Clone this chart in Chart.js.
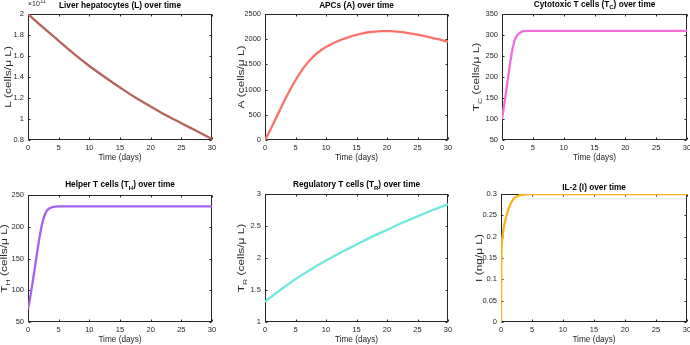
<!DOCTYPE html>
<html>
<head>
<meta charset="utf-8">
<script src="https://cdn.jsdelivr.net/npm/chart.js@4.4.1/dist/chart.umd.min.js"></script>
<style>
html, body { margin: 0; padding: 0; background: #fff; width: 690px; height: 345px; overflow: hidden; }
canvas { position: absolute; }
</style>
</head>
<body>
<canvas id="c1"></canvas>
<canvas id="c2"></canvas>
<canvas id="c3"></canvas>
<canvas id="c4"></canvas>
<canvas id="c5"></canvas>
<canvas id="c6"></canvas>
<script>
// ---- data ----
const xTicks = [0, 5, 10, 15, 20, 25, 30];

const daysL = [0, 2.5, 5, 7.5, 10, 12.5, 15, 17.5, 20, 22.5, 25, 27.5, 30];
const liverL = [2.0e11, 1.87e11, 1.745e11, 1.62e11, 1.505e11, 1.40e11, 1.30e11, 1.205e11, 1.12e11, 1.035e11, 0.96e11, 0.885e11, 0.81e11];
const yTicksL = [0.8e11, 1.0e11, 1.2e11, 1.4e11, 1.6e11, 1.8e11, 2.0e11];

const daysA = [0, 1, 2, 3, 4, 5, 6, 7, 8, 9, 10, 11, 12, 13, 14, 15, 16, 17, 18, 19, 20, 22, 24, 26, 28, 30];
const apcA = [0, 235, 485, 735, 970, 1185, 1375, 1535, 1665, 1765, 1845, 1910, 1965, 2010, 2050, 2085, 2115, 2138, 2152, 2160, 2160, 2145, 2110, 2065, 2010, 1950];
const yTicksA = [0, 500, 1000, 1500, 2000, 2500];

const daysTC = [0, 0.5, 1, 1.5, 2, 2.5, 3, 3.5, 4, 5, 10, 20, 30];
const cytoTC = [100, 148, 200, 250, 285, 300, 306, 309, 310, 310, 310, 310, 310];
const yTicksTC = [50, 100, 150, 200, 250, 300, 350];

const daysTH = [0, 0.5, 1, 1.5, 2, 2.5, 3, 3.5, 4, 5, 10, 20, 30];
const helperTH = [70, 97, 128, 160, 190, 212, 224, 229, 231, 232, 232, 232, 232];
const yTicksTH = [50, 100, 150, 200, 250];

const daysTR = [0, 2.5, 5, 7.5, 10, 12.5, 15, 17.5, 20, 22.5, 25, 27.5, 30];
const regTR = [1.32, 1.50, 1.67, 1.82, 1.96, 2.09, 2.21, 2.33, 2.44, 2.55, 2.65, 2.75, 2.84];
const yTicksTR = [1, 1.5, 2, 2.5, 3];

const daysI = [0, 0.03, 0.1, 0.25, 0.5, 1, 1.5, 2, 2.5, 3, 4, 5, 30];
const il2I = [0, 0.11, 0.17, 0.2, 0.225, 0.255, 0.276, 0.288, 0.294, 0.297, 0.299, 0.3, 0.3];
const yTicksI = [0, 0.05, 0.1, 0.15, 0.2, 0.25, 0.3];

// ---- panels ----
const FONT = '"Liberation Sans", Arial, Helvetica, sans-serif';
const YW = 20, XH = 12;

const panels = [
  { id: 'c1', box: [0, 0, 230, 172], area: [28, 14, 212, 140], days: daysL, vals: liverL, color: '#b5645a',
    yTicks: yTicksL, div: 1e11, title: [['Liver hepatocytes (L) over time']], titleY: 6,
    ylab: [['L (cells/μ L)']], ylabX: 9, exp: true, smooth: true },
  { id: 'c2', box: [230, 0, 230, 172], area: [265, 14, 448, 140], days: daysA, vals: apcA, color: '#fa7268',
    yTicks: yTicksA, div: 1, title: [['APCs (A) over time']], titleY: 6,
    ylab: [['A (cells/μ L)']], ylabX: 242, smooth: true },
  { id: 'c3', box: [460, 0, 236, 172], area: [502, 14, 687, 140], days: daysTC, vals: cytoTC, color: '#f26fde',
    yTicks: yTicksTC, div: 1, title: [['Cytotoxic T cells (T'], ['C', 1], [') over time']], titleY: 4.5,
    ylab: [['T'], ['C', 1], [' (cells/μ L)']], ylabX: 477 },
  { id: 'c4', box: [0, 172, 230, 173], area: [28, 195, 212, 322], days: daysTH, vals: helperTH, color: '#a461f2',
    yTicks: yTicksTH, div: 1, title: [['Helper T cells (T'], ['H', 1], [') over time']], titleY: 185,
    ylab: [['T'], ['H', 1], [' (cells/μ L)']], ylabX: 4.5 },
  { id: 'c5', box: [230, 172, 230, 173], area: [265, 194, 448, 322], days: daysTR, vals: regTR, color: '#6fe8e0',
    yTicks: yTicksTR, div: 1, title: [['Regulatory T cells (T'], ['R', 1], [') over time']], titleY: 185,
    ylab: [['T'], ['R', 1], [' (cells/μ L)']], ylabX: 242, smooth: true },
  { id: 'c6', box: [460, 172, 236, 173], area: [501, 194, 687, 322], days: daysI, vals: il2I, color: '#f5b41e',
    yTicks: yTicksI, div: 1, title: [['IL-2 (I) over time']], titleY: 188,
    ylab: [['I (ng/μ L)']], ylabX: 480 }
];

function drawRich(ctx, segs, x, y, size, bold) {
  let total = 0;
  const parts = segs.map(([t, sub]) => {
    const fs = sub ? size * 0.72 : size;
    ctx.font = (bold ? 'bold ' : '') + fs + 'px ' + FONT;
    const w = ctx.measureText(t).width;
    total += w;
    return { t, sub, fs, w };
  });
  let cx = x - total / 2;
  ctx.textAlign = 'left';
  ctx.textBaseline = 'middle';
  parts.forEach(p => {
    ctx.font = (bold ? 'bold ' : '') + p.fs + 'px ' + FONT;
    ctx.fillText(p.t, cx, y + (p.sub ? size * 0.4 : 0));
    cx += p.w;
  });
}

const frame = {
  id: 'frame',
  beforeDatasetsDraw(chart) {
    const { ctx, chartArea: a, scales: { x, y } } = chart;
    const l = Math.round(a.left) + 0.5, r = Math.round(a.right) - 0.5;
    const t = Math.round(a.top) + 0.5, b = Math.round(a.bottom) - 0.5;
    ctx.save();
    ctx.strokeStyle = '#262626';
    ctx.lineWidth = 1;
    ctx.strokeRect(l, t, r - l, b - t);
    ctx.beginPath();
    x.ticks.forEach(tk => {
      const px = Math.round(x.getPixelForValue(tk.value)) + 0.5;
      ctx.moveTo(px, b); ctx.lineTo(px, b - 2);
      ctx.moveTo(px, t); ctx.lineTo(px, t + 2);
    });
    y.ticks.forEach(tk => {
      const py = Math.round(y.getPixelForValue(tk.value)) + 0.5;
      ctx.moveTo(l, py); ctx.lineTo(l + 2, py);
      ctx.moveTo(r, py); ctx.lineTo(r - 2, py);
    });
    ctx.stroke();
    ctx.restore();
  },
  afterDraw(chart, args, o) {
    const { ctx, chartArea: a } = chart;
    const p = o.panel;
    const ox = p.box[0], oy = p.box[1];
    const cx = (a.left + a.right) / 2, cy = (a.top + a.bottom) / 2;
    ctx.save();
    ctx.fillStyle = '#000';
    drawRich(ctx, p.title, cx, p.titleY - oy, 8.25, true);
    ctx.fillStyle = '#262626';
    drawRich(ctx, [['Time (days)']], cx, a.bottom + 18, 8.25, false);
    ctx.translate(p.ylabX - ox, cy);
    ctx.rotate(-Math.PI / 2);
    ctx.scale(1.4, 1);
    drawRich(ctx, p.ylab, 0, 0, 8.5, false);
    ctx.restore();
    if (p.exp) {
      ctx.save();
      ctx.fillStyle = '#262626';
      ctx.textAlign = 'left';
      ctx.textBaseline = 'middle';
      ctx.font = '7px ' + FONT;
      ctx.fillText('×10', a.left, 4);
      const w = ctx.measureText('×10').width;
      ctx.font = '5.5px ' + FONT;
      ctx.fillText('11', a.left + w + 0.5, 1.5);
      ctx.restore();
    }
  }
};

function fmt(v) {
  return String(parseFloat(v.toFixed(4)));
}

panels.forEach(p => {
  const cv = document.getElementById(p.id);
  const [bx, by, bw, bh] = p.box;
  const [l, t, r, b] = p.area;
  cv.width = bw; cv.height = bh;
  cv.style.left = bx + 'px'; cv.style.top = by + 'px';
  cv.style.width = bw + 'px'; cv.style.height = bh + 'px';
  const tickFont = { family: FONT, size: 7.5 };
  new Chart(cv, {
    type: 'line',
    data: {
      datasets: [{
        data: p.days.map((d, i) => ({ x: d, y: p.vals[i] })),
        borderColor: p.color,
        borderWidth: 2.3,
        pointRadius: 0,
        fill: false,
        tension: p.smooth ? 0.4 : 0,
        cubicInterpolationMode: p.smooth ? 'default' : 'monotone'
      }]
    },
    options: {
      responsive: false,
      animation: false,
      events: [],
      layout: {
        padding: { left: l - bx - YW, top: t - by, right: bx + bw - r, bottom: by + bh - b - XH }
      },
      plugins: {
        legend: { display: false },
        title: { display: false },
        tooltip: { enabled: false },
        frame: { panel: p }
      },
      scales: {
        x: {
          type: 'linear',
          min: 0, max: 30,
          afterBuildTicks: s => { s.ticks = xTicks.map(v => ({ value: v })); },
          afterFit: s => { s.height = XH; },
          grid: { display: false, drawTicks: false },
          border: { display: false },
          ticks: { font: tickFont, color: '#262626', padding: 3, maxRotation: 0, callback: v => fmt(v) }
        },
        y: {
          type: 'linear',
          min: p.yTicks[0], max: p.yTicks[p.yTicks.length - 1],
          afterBuildTicks: s => { s.ticks = p.yTicks.map(v => ({ value: v })); },
          afterFit: s => { s.width = YW; },
          grid: { display: false, drawTicks: false },
          border: { display: false },
          ticks: { font: tickFont, color: '#262626', padding: 4, callback: v => fmt(v / p.div) }
        }
      }
    },
    plugins: [frame]
  });
});
</script>
</body>
</html>
